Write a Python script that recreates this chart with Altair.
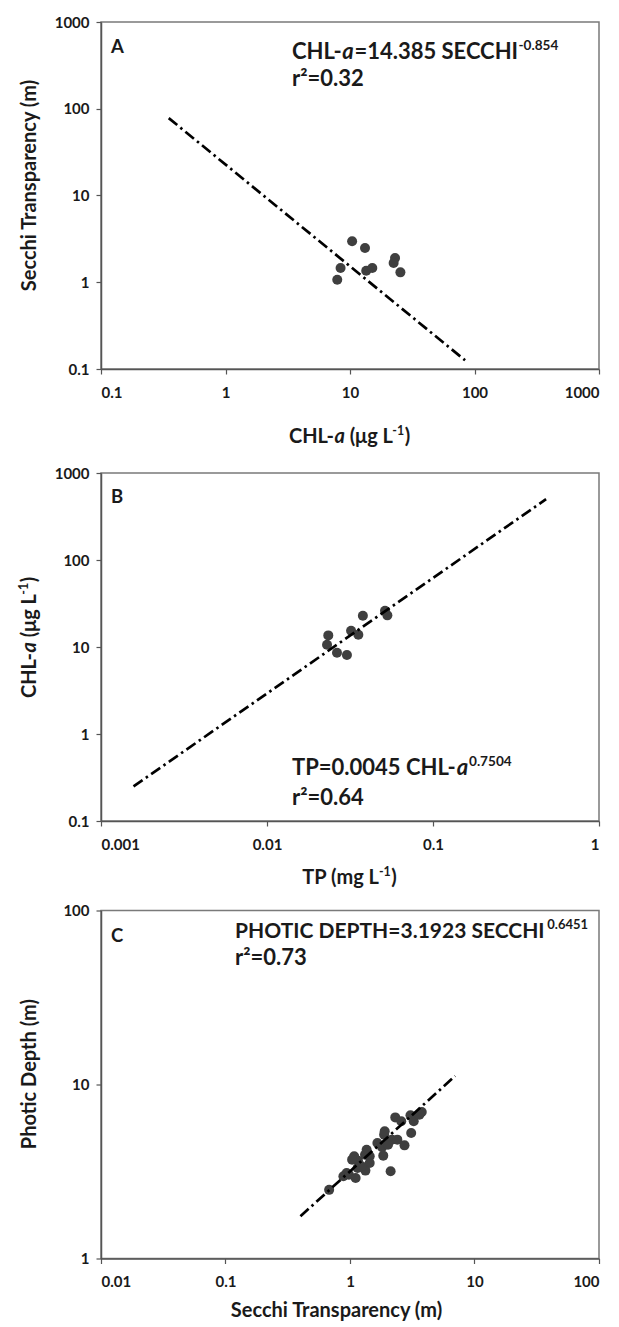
import altair as alt
import pandas as pd

# ---------------- data ----------------
A_chl = [10.4, 13.2, 8.4, 7.9, 13.5, 15.1, 23.0, 22.4, 25.4]
A_secchi = [2.97, 2.48, 1.46, 1.07, 1.36, 1.46, 1.90, 1.67, 1.30]
A_fit_x = [0.35, 84.0]
A_fit_y = [78.0, 0.126]

B_tp = [0.0234, 0.0230, 0.0264, 0.0303, 0.0321, 0.0355, 0.0378, 0.0514, 0.0531]
B_chl = [13.6, 10.6, 8.6, 8.1, 15.4, 13.8, 22.9, 26.1, 23.1]
B_fit_x = [0.00157, 0.48]
B_fit_y = [0.25, 500.0]

C_secchi = [2.31, 2.58, 3.06, 3.25, 3.77, 3.10, 1.88, 2.17, 2.40, 2.74,
            1.66, 1.81, 1.85, 1.36, 1.44, 1.08, 1.16, 1.44, 1.33, 1.15,
            1.24, 0.94, 0.885, 0.98, 1.11, 2.12, 0.68, 1.90, 3.61, 2.02,
            1.04, 1.32]
C_photic = [6.47, 6.15, 6.65, 6.15, 6.95, 5.26, 5.15, 4.82, 4.82, 4.47,
            4.61, 4.36, 3.90, 4.22, 3.87, 3.87, 3.65, 3.54, 3.20, 3.31,
            3.39, 3.10, 2.97, 3.03, 2.90, 3.17, 2.48, 5.38, 6.71, 4.51,
            3.70, 3.95]
C_fit_x = [0.40, 7.0]
C_fit_y = [1.75, 11.2]

A_xticks = [0.1, 1, 10, 100, 1000]
A_yticks = [0.1, 1, 10, 100, 1000]
B_xticks = [0.001, 0.01, 0.1, 1]
B_yticks = [0.1, 1, 10, 100, 1000]
C_xticks = [0.01, 0.1, 1, 10, 100]
C_yticks = [1, 10, 100]

# ---------------- styling ----------------
FONT = "Lato"
INK = "#1a1a1a"
PT = "#3f3f3f"
W = 498
H = 347

EM = {" ": .20, "-": .34, "=": .58, ".": .27, "(": .32, ")": .32, "μ": .58,
      "g": .53, "m": .82, "A": .70, "B": .66, "C": .67, "D": .78, "E": .57,
      "H": .77, "I": .30, "L": .50, "O": .83, "P": .64, "S": .53, "T": .62,
      "a": .51, "c": .46, "e": .53, "h": .57, "i": .27, "n": .57, "p": .57,
      "r": .38, "s": .42, "t": .37, "y": .52, "²": .36}


def tw(s, size):
    return sum(EM.get(ch, 0.58) for ch in s) * size


def one(text, x, y, size, style="normal", angle=0):
    return alt.Chart(pd.DataFrame({"d": [0]})).mark_text(
        text=text, align="left", baseline="alphabetic", font=FONT,
        fontWeight="bold", fontStyle=style, fontSize=size, color=INK,
        angle=angle,
    ).encode(x=alt.value(x), y=alt.value(y))


def rich(pieces, x0, y, size, rotate=False, center=False):
    """Chain text pieces: 'b' bold, 'i' bold italic, 'sup' superscript."""
    sup_size = round(size * 0.62, 1)

    def width(t, k):
        if k == "sup":
            return tw(t, sup_size) + 1
        return tw(t, size) + (1 if k == "i" else 0)

    total = sum(width(t, k) for t, k in pieces)
    if rotate:
        pos = x0 + total / 2 if center else x0
    else:
        pos = x0 - total / 2 if center else x0
    out = []
    for t, k in pieces:
        s = sup_size if k == "sup" else size
        lift = size * 0.40 if k == "sup" else 0
        st = "italic" if k == "i" else "normal"
        lead = len(t) - len(t.lstrip(" "))
        shift = tw(" " * lead, s)
        txt = t.lstrip(" ")
        if rotate:
            out.append(one(txt, y - lift, pos - shift, s, st, angle=270))
            pos -= width(t, k)
        else:
            out.append(one(txt, pos + shift, y - lift, s, st))
            pos += width(t, k)
    return out


def panel(xs, ys, fx, fy, xdom, ydom, xticks, yticks, extras, height=H):
    df = pd.DataFrame({"x": xs, "y": ys})
    fit = pd.DataFrame({"x": fx, "y": fy})
    xenc = alt.X("x:Q", scale=alt.Scale(type="log", domain=xdom, nice=False),
                 axis=alt.Axis(values=xticks, format="~g", title=None,
                               labelPadding=11))
    yenc = alt.Y("y:Q", scale=alt.Scale(type="log", domain=ydom, nice=False),
                 axis=alt.Axis(values=yticks, format="~g", title=None,
                               labelPadding=7))
    pts = alt.Chart(df).mark_point(filled=True, shape="circle", size=100,
                                   color=PT, opacity=1).encode(x=xenc, y=yenc)
    line = alt.Chart(fit).mark_line(color="black", strokeWidth=2.7,
                                    strokeDash=[11, 4, 2.5, 4]).encode(x=xenc, y=yenc)
    return alt.layer(pts, line, *extras).properties(width=W, height=height)


EQ = 22
TT = 20
TX = -65  # baseline x of rotated y-axis titles (relative to plot left)

# Panel A
A_extra = [one("A", 10, 31, 18.5)]
A_extra += rich([("CHL-", "b"), ("a", "i"), ("=14.385 SECCHI", "b"), ("-0.854", "sup")], 191, 37, EQ)
A_extra += rich([("r²=0.32", "b")], 191, 64, EQ)
A_extra += rich([("CHL-", "b"), ("a", "i"), (" (μg L", "b"), ("-1", "sup"), (")", "b")],
                W / 2, 421, TT, center=True)
A_extra += rich([("Secchi Transparency (m)", "b")], 162, TX, TT, rotate=True, center=True)
chartA = panel(A_chl, A_secchi, A_fit_x, A_fit_y, [0.1, 1000], [0.1, 1000],
               A_xticks, A_yticks, A_extra)

# Panel B
HB = 348
B_extra = [one("B", 10, 30, 18.5)]
B_extra += rich([("TP=0.0045 CHL-", "b"), ("a", "i"), ("0.7504", "sup")], 191, 302, EQ)
B_extra += rich([("r²=0.64", "b")], 191, 332, EQ)
B_extra += rich([("TP (mg L", "b"), ("-1", "sup"), (")", "b")], W / 2, 411, TT, center=True)
B_extra += rich([("CHL-", "b"), ("a", "i"), (" (μg L", "b"), ("-1", "sup"), (")", "b")],
                164, TX, TT, rotate=True, center=True)
chartB = panel(B_tp, B_chl, B_fit_x, B_fit_y, [0.001, 1], [0.1, 1000],
               B_xticks, B_yticks, B_extra, height=HB)

# Panel C
HC = 348
C_extra = [one("C", 10, 31, 18.5)]
C_extra += rich([("PHOTIC DEPTH=3.1923 SECCHI", "b"), ("0.6451", "sup")], 134, 27, EQ - 1)
C_extra += rich([("r²=0.73", "b")], 134, 54, EQ)
C_extra += rich([("Secchi Transparency (m)", "b")], W / 2 - 12, 406, TT, center=True)
C_extra += rich([("Photic Depth (m)", "b")], 163, TX, TT, rotate=True, center=True)
chartC = panel(C_secchi, C_photic, C_fit_x, C_fit_y, [0.01, 100], [1, 100],
               C_xticks, C_yticks, C_extra, height=HC)

inner = alt.vconcat(chartB, chartC, spacing=89.5, bounds="flush")
chart = alt.vconcat(chartA, inner, spacing=104, bounds="flush").properties(
    padding={"left": 9, "top": 6, "right": 5, "bottom": 5}
).configure_view(
    stroke="#7a7a7a", strokeWidth=1.5
).configure_axis(
    grid=False, domainColor="#555555", domainWidth=1.5, tickColor="#555555",
    tickSize=5, tickWidth=1.2, labelFont=FONT, labelFontSize=15,
    labelFontWeight="bold", labelColor=INK,
)

chart.save("out.html", embed_options={"renderer": "svg", "actions": False})
